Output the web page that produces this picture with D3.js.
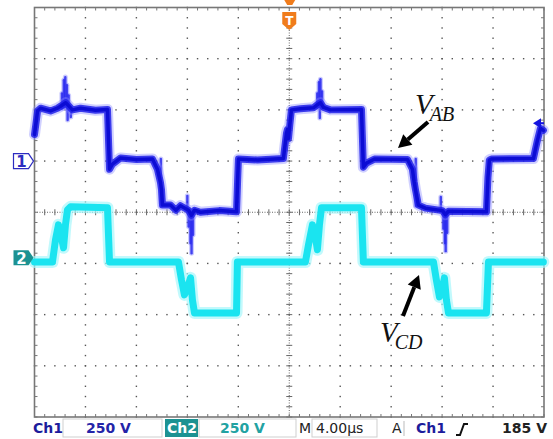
<!DOCTYPE html>
<html>
<head>
<meta charset="utf-8">
<script src="https://cdn.jsdelivr.net/npm/d3@7"></script>
<style>
  body { margin: 0; background: #fff; }
  svg { display: block; }
</style>
</head>
<body>
<div id="chart"></div>
<script>
// Scope readout: 40 us across (4 us/div), 250 V/div on both channels
const ch1Points = [
  [0.00, 130], [0.16, 205], [0.24, 245], [0.47, 258], [1.26, 245], [1.80, 258],
  [2.10, 270], [2.45, 285], [2.80, 262], [2.98, 250], [3.61, 258], [4.79, 248],
  [5.73, 252], [5.80, 120], [5.89, -40], [6.12, -15], [6.75, 15], [8.00, 8],
  [9.26, 10], [9.65, -40], [9.89, -105], [9.97, -140], [10.05, -215], [10.68, -215],
  [11.10, -240], [11.46, -218], [12.09, -240], [12.32, -265], [12.56, -240],
  [13.03, -250], [14.50, -242], [15.86, -248], [15.95, -90], [16.01, 10],
  [17.50, 5], [19.54, 12], [19.78, 135], [19.86, 155], [19.94, 110], [20.05, 180],
  [20.17, 250], [20.88, 255], [21.90, 260], [22.20, 275], [22.45, 285], [22.70, 262],
  [23.23, 250], [25.67, 252], [25.75, 100], [25.82, -30], [26.06, -10], [26.69, 10],
  [29.28, 8], [29.67, -40], [29.80, -100], [29.91, -140], [30.14, -215],
  [30.69, -230], [32.03, -242], [32.26, -262], [32.50, -245], [35.48, -248],
  [35.60, -80], [35.71, 5], [35.87, 10], [39.17, 12], [39.48, 100], [39.72, 160],
  [39.95, 150]
];

// fuzzy glitches seen on the persistence trace: [time, from V, to V]
const ch1Glitches = [
  [2.15, 255, 330], [2.30, 260, 395], [2.42, 265, 410], [2.55, 255, 370],
  [2.68, 250, 320], [2.60, 250, 200], [2.85, 250, 215],
  [9.92, 10, -220], [12.10, -240, -320], [12.25, -250, -400], [12.33, -255, -450],
  [12.45, -245, -360], [12.00, -245, -170],
  [22.20, 260, 330], [22.33, 265, 385], [22.45, 265, 400], [22.58, 260, 340],
  [22.40, 255, 210], [29.93, 10, -220],
  [32.10, -240, -330], [32.22, -250, -400], [32.28, -255, -440], [32.40, -245, -350],
  [31.90, -245, -175]
];

const ch2Points = [
  [0.00, -10], [1.41, -10], [1.65, 98], [1.88, 171], [2.12, 108], [2.28, 59],
  [2.43, 171], [2.59, 245], [2.83, 259], [5.73, 254], [5.89, -10], [11.30, -10],
  [11.54, -98], [11.77, -171], [12.01, -137], [12.25, -88], [12.40, -196],
  [12.56, -259], [15.86, -259], [15.93, -10], [21.27, -10], [21.51, 73],
  [21.82, 171], [22.06, 108], [22.21, 49], [22.37, 171], [22.53, 254],
  [25.67, 254], [25.82, -10], [31.32, -10], [31.55, -98], [31.79, -181],
  [32.03, -137], [32.18, -88], [32.34, -196], [32.50, -259], [35.48, -259],
  [35.64, -10], [39.95, -10]
];

const voltsPerDiv = 250;
const ch1Offset = 1;      // ground marker, divisions above centre
const ch2Offset = -0.93;
const triggerLevel = 185;
const statusItems = ['Ch1', '250 V', 'Ch2', '250 V', 'M', '4.00µs', 'A', 'Ch1', '185 V'];

const width = 553, height = 439;
const plotLeft = 34.5, plotRight = 544, plotTop = 7.5, plotBottom = 417;

const svg = d3.select('#chart').append('svg')
  .attr('width', width)
  .attr('height', height);

const x = d3.scaleLinear().domain([0, 40]).range([plotLeft, plotRight]);
const yDiv = d3.scaleLinear().domain([-4, 4]).range([plotBottom, plotTop]);
const y1 = d3.scaleLinear()
  .domain([(-4 - ch1Offset) * voltsPerDiv, (4 - ch1Offset) * voltsPerDiv])
  .range([plotBottom, plotTop]);
const y2 = d3.scaleLinear()
  .domain([(-4 - ch2Offset) * voltsPerDiv, (4 - ch2Offset) * voltsPerDiv])
  .range([plotBottom, plotTop]);

// graticule
const grid = svg.append('g');
const sub = d3.range(0, 40.001, 0.8);        // 1/5 division in time
const subV = d3.range(-4, 4.001, 0.2);       // 1/5 division vertically

d3.range(4, 40, 4).forEach(t => {
  if (t === 20) return;
  grid.selectAll(null).data(subV).enter().append('rect')
    .attr('x', x(t) - 0.7).attr('y', d => yDiv(d) - 0.7)
    .attr('width', 1.4).attr('height', 1.4).attr('fill', '#555');
});
d3.range(-3, 4, 1).forEach(v => {
  if (v === 0) return;
  grid.selectAll(null).data(sub).enter().append('rect')
    .attr('x', d => x(d) - 0.7).attr('y', yDiv(v) - 0.7)
    .attr('width', 1.4).attr('height', 1.4).attr('fill', '#555');
});

// centre cross
grid.append('line')
  .attr('x1', plotLeft).attr('x2', plotRight).attr('y1', yDiv(0)).attr('y2', yDiv(0))
  .attr('stroke', '#666').attr('stroke-dasharray', '1,1.5');
grid.append('line')
  .attr('x1', x(20)).attr('x2', x(20)).attr('y1', plotTop).attr('y2', plotBottom)
  .attr('stroke', '#666').attr('stroke-dasharray', '1,1.5');
grid.selectAll(null).data(sub).enter().append('line')
  .attr('x1', d => x(d)).attr('x2', d => x(d))
  .attr('y1', yDiv(0) - 3).attr('y2', yDiv(0) + 3)
  .attr('stroke', '#666');
grid.selectAll(null).data(subV).enter().append('line')
  .attr('x1', x(20) - 3).attr('x2', x(20) + 3)
  .attr('y1', d => yDiv(d)).attr('y2', d => yDiv(d))
  .attr('stroke', '#666');

// frame ticks
grid.selectAll(null).data(sub).enter().append('line')
  .attr('x1', d => x(d)).attr('x2', d => x(d))
  .attr('y1', plotTop).attr('y2', plotTop + 3).attr('stroke', '#777');
grid.selectAll(null).data(sub).enter().append('line')
  .attr('x1', d => x(d)).attr('x2', d => x(d))
  .attr('y1', plotBottom).attr('y2', plotBottom - 3).attr('stroke', '#777');
grid.selectAll(null).data(subV).enter().append('line')
  .attr('x1', plotLeft).attr('x2', plotLeft + 3)
  .attr('y1', d => yDiv(d)).attr('y2', d => yDiv(d)).attr('stroke', '#777');
grid.selectAll(null).data(subV).enter().append('line')
  .attr('x1', plotRight).attr('x2', plotRight - 3)
  .attr('y1', d => yDiv(d)).attr('y2', d => yDiv(d)).attr('stroke', '#777');

grid.append('rect')
  .attr('x', plotLeft).attr('y', plotTop)
  .attr('width', plotRight - plotLeft).attr('height', plotBottom - plotTop)
  .attr('fill', 'none').attr('stroke', '#777').attr('stroke-width', 1.6);

// traces, drawn in layers to look like a persistence display
const line1 = d3.line().x(d => x(d[0])).y(d => y1(d[1]));
const line2 = d3.line().x(d => x(d[0])).y(d => y2(d[1]));

const traces = svg.append('g').attr('fill', 'none')
  .attr('stroke-linejoin', 'round').attr('stroke-linecap', 'round');

traces.append('path').attr('d', line2(ch2Points))
  .attr('stroke', '#a8f6fb').attr('stroke-width', 12).attr('opacity', 0.7);
traces.append('path').attr('d', line2(ch2Points))
  .attr('stroke', '#1ae4f0').attr('stroke-width', 7);

traces.selectAll('line.halo').data(ch1Glitches).enter().append('line')
  .attr('class', 'halo')
  .attr('x1', d => x(d[0])).attr('x2', d => x(d[0]))
  .attr('y1', d => y1(d[1])).attr('y2', d => y1(d[2]))
  .attr('stroke', '#8c8cff').attr('stroke-width', 5).attr('opacity', 0.45);
traces.selectAll('line.glitch').data(ch1Glitches).enter().append('line')
  .attr('class', 'glitch')
  .attr('x1', d => x(d[0])).attr('x2', d => x(d[0]))
  .attr('y1', d => y1(d[1])).attr('y2', d => y1(d[2]))
  .attr('stroke', '#2a2aee').attr('stroke-width', 2.4).attr('opacity', 0.85);

traces.append('path').attr('d', line1(ch1Points))
  .attr('stroke', '#8a8aff').attr('stroke-width', 11).attr('opacity', 0.4);
traces.append('path').attr('d', line1(ch1Points))
  .attr('stroke', '#2020ea').attr('stroke-width', 7).attr('opacity', 0.85);
traces.append('path').attr('d', line1(ch1Points))
  .attr('stroke', '#0c0cd4').attr('stroke-width', 3.5);

// channel ground markers
const tag = 'M0,-7.5 H15 L20,0 L15,7.5 H0 Z';
const m1 = svg.append('g').attr('transform', `translate(13.5,${y1(0)})`);
m1.append('path').attr('d', tag).attr('fill', '#fff').attr('stroke', '#2c2cc0').attr('stroke-width', 1.2);
m1.append('text').attr('x', 8).attr('y', 6).attr('text-anchor', 'middle')
  .attr('font-family', 'DejaVu Sans').attr('font-weight', 'bold').attr('font-size', 15)
  .attr('fill', '#2c2cc0').text('1');

const m2 = svg.append('g').attr('transform', `translate(13.5,${y2(0) - 2})`);
m2.append('path').attr('d', tag).attr('fill', '#1c9292');
m2.append('text').attr('x', 8).attr('y', 6).attr('text-anchor', 'middle')
  .attr('font-family', 'DejaVu Sans').attr('font-weight', 'bold').attr('font-size', 15)
  .attr('fill', '#fff').text('2');

// trigger position marker (orange T) and trigger level arrow
const tx = x(20);
svg.append('path').attr('d', `M${tx - 5},0 H${tx + 6} L${tx + 3},5 H${tx - 2} Z`).attr('fill', '#f07c1c');
svg.append('path')
  .attr('d', `M${tx - 7},12 H${tx + 7} V24 L${tx},30 L${tx - 7},24 Z`)
  .attr('fill', '#f07c1c');
svg.append('text').attr('x', tx).attr('y', 25).attr('text-anchor', 'middle')
  .attr('font-family', 'DejaVu Sans').attr('font-weight', 'bold').attr('font-size', 12)
  .attr('fill', '#fff').text('T');

const ty = y1(triggerLevel);
svg.append('path')
  .attr('d', `M${plotRight - 11},${ty} L${plotRight - 3},${ty - 5} L${plotRight - 3},${ty + 5} Z`)
  .attr('fill', '#1414e0');
svg.append('line').attr('x1', plotRight - 5).attr('x2', plotRight).attr('y1', ty).attr('y2', ty)
  .attr('stroke', '#1414e0').attr('stroke-width', 2);

// annotations
function arrow(x1, yA, x2, yB) {
  const ang = Math.atan2(yB - yA, x2 - x1);
  const hl = 13, hw = 7;
  const bx = x2 - hl * Math.cos(ang), by = yB - hl * Math.sin(ang);
  svg.append('line').attr('x1', x1).attr('y1', yA).attr('x2', bx).attr('y2', by)
    .attr('stroke', '#000').attr('stroke-width', 4);
  svg.append('path')
    .attr('d', `M${x2},${yB} L${bx + hw * Math.sin(ang)},${by - hw * Math.cos(ang)} L${bx - hw * Math.sin(ang)},${by + hw * Math.cos(ang)} Z`)
    .attr('fill', '#000');
}
arrow(428, 122, 398, 148);
arrow(403, 316, 419, 275);

function label(xp, yp, main, subTxt) {
  const t = svg.append('text').attr('x', xp).attr('y', yp)
    .attr('font-family', 'Liberation Serif').attr('font-style', 'italic').attr('fill', '#111');
  t.append('tspan').attr('font-size', 29).text(main);
  t.append('tspan').attr('font-size', 20).attr('dy', 7).attr('dx', -3).text(subTxt);
}
label(415, 114, 'V', 'AB');
label(380, 342, 'V', 'CD');

// status bar
const bar = svg.append('g').attr('font-family', 'DejaVu Sans').attr('font-size', 14)
  .attr('font-weight', 'bold');
const by0 = 433;
bar.append('rect').attr('x', 63).attr('y', 419).attr('width', 99).attr('height', 18)
  .attr('fill', 'none').attr('stroke', '#cfcfcf');
bar.append('rect').attr('x', 165).attr('y', 419).attr('width', 33).attr('height', 18)
  .attr('fill', '#1c9292');
bar.append('rect').attr('x', 199).attr('y', 419).attr('width', 97).attr('height', 18)
  .attr('fill', 'none').attr('stroke', '#cfcfcf');
bar.append('rect').attr('x', 312).attr('y', 419).attr('width', 65).attr('height', 18)
  .attr('fill', 'none').attr('stroke', '#cfcfcf');
bar.append('line').attr('x1', 404).attr('x2', 404).attr('y1', 421).attr('y2', 436)
  .attr('stroke', '#bbb');

const items = [
  { x: 33, fill: '#1c1c9c', anchor: 'start' },
  { x: 86, fill: '#2424a8', anchor: 'start' },
  { x: 167, fill: '#ffffff', anchor: 'start' },
  { x: 220, fill: '#22a2a2', anchor: 'start' },
  { x: 299, fill: '#222', anchor: 'start' },
  { x: 316, fill: '#222', anchor: 'start' },
  { x: 392, fill: '#222', anchor: 'start' },
  { x: 416, fill: '#1c1c9c', anchor: 'start' },
  { x: 547, fill: '#222', anchor: 'end' }
];
bar.selectAll('text.status').data(statusItems).enter().append('text')
  .attr('class', 'status')
  .attr('x', (d, i) => items[i].x)
  .attr('y', by0)
  .attr('fill', (d, i) => items[i].fill)
  .attr('text-anchor', (d, i) => items[i].anchor)
  .attr('font-weight', (d, i) => (i === 4 || i === 5 || i === 6) ? 'normal' : 'bold')
  .text(d => d);

// rising edge symbol
bar.append('path').attr('d', 'M456,435 H460 L464,424 H468')
  .attr('fill', 'none').attr('stroke', '#111').attr('stroke-width', 2);
</script>
</body>
</html>
